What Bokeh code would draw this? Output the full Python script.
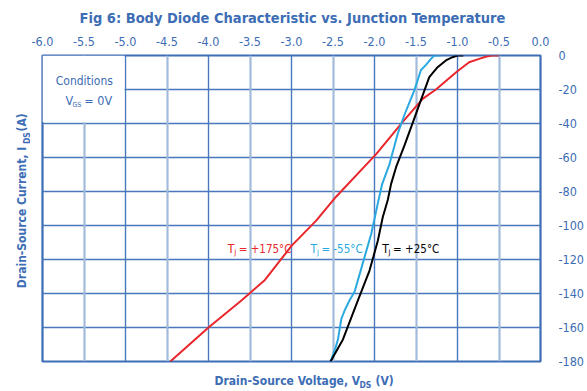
from bokeh.plotting import figure
from bokeh.models import Range1d, FixedTicker, Grid, Label, PrintfTickFormatter
from bokeh.layouts import column, row
from bokeh.embed import file_html
from bokeh.resources import INLINE
from bokeh.core.properties import value
import math

# ---- data ----
x_ticks = [-6.0, -5.5, -5.0, -4.5, -4.0, -3.5, -3.0, -2.5, -2.0, -1.5, -1.0, -0.5, 0.0]
y_ticks = [0, -20, -40, -60, -80, -100, -120, -140, -160, -180]

t175_v = [-4.46, -4.00, -3.60, -3.32, -3.00, -2.70, -2.48, -1.98, -1.66, -1.42, -1.26, -1.02, -0.86, -0.74, -0.65, -0.58, -0.50]
t175_i = [-180, -160, -144, -132, -112, -97, -84, -58, -39, -25.5, -20, -10, -4, -2, -0.6, 0, 0]

tm55_v = [-2.53, -2.47, -2.44, -2.40, -2.36, -2.30, -2.24, -2.14, -2.04, -1.96, -1.91, -1.82, -1.72, -1.64, -1.52, -1.44, -1.38, -1.32, -1.28, -1.20]
tm55_i = [-180, -172, -167, -155, -150, -144, -139, -122, -105, -87, -76, -64, -46, -35, -20.5, -8.5, -5.5, -2, 0, 0]

t25_v = [-2.53, -2.38, -2.20, -2.06, -1.96, -1.90, -1.84, -1.80, -1.74, -1.64, -1.52, -1.42, -1.34, -1.24, -1.14, -1.06, -1.00, -0.93]
t25_i = [-180, -167, -144, -126.5, -109, -95, -85, -75.5, -65.7, -53, -37, -23.5, -12.7, -6.9, -2.9, -1, 0, 0]

title_text = "Fig 6: Body Diode Characteristic vs. Junction Temperature"
x_label = ["Drain-Source Voltage, V", "DS", "(V)"]
y_label = ["Drain-Source Current, I", "DS", "(A)"]
curve_labels = [("T", "J", "= +175°C"), ("T", "J", "= -55°C"), ("T", "J", "= +25°C")]

# ---- style ----
BLUE = "#3d6db5"
GRID_DARK = "#4a78bd"
GRID_LIGHT = "#a2bbdb"
RED = "#e8262b"
CYAN = "#2aa9e0"
BLACK = "#000000"
FONT = "Noto Sans Condensed, DejaVu Sans Condensed"

W, H = 587, 391
TITLE_H = 28
XLAB_H = 21
YLAB_W = 30
MID_H = H - TITLE_H - XLAB_H
MAIN_W = W - YLAB_W
FRAME_L, FRAME_R, FRAME_T, FRAME_B = 42, 542, 55, 361   # page pixels


def text_fig(w, h):
    f = figure(width=w, height=h, x_range=Range1d(0, w), y_range=Range1d(0, h),
               output_backend="svg", toolbar_location=None,
               x_axis_location=None, y_axis_location=None, min_border=0)
    f.title = None
    f.outline_line_color = None
    f.grid.visible = False
    f.background_fill_color = "white"
    f.border_fill_color = "white"
    return f


def put(f, ox, oy, h, px, py, text, size, color, align="left", bold=False, angle=0.0):
    f.text(x=[px - ox], y=[h - (py - oy)], text=[text], text_font=value(FONT),
           text_font_size=value(f"{size}px"), text_color=color,
           text_font_style="bold" if bold else "normal",
           text_align=align, text_baseline="middle", angle=angle)


# ---- main plot ----
p = figure(width=MAIN_W, height=MID_H, x_range=Range1d(-6, 0), y_range=Range1d(-180, 0),
           x_axis_location="above", y_axis_location="right",
           output_backend="svg", toolbar_location=None,
           min_border_left=FRAME_L - YLAB_W, min_border_right=W - FRAME_R,
           min_border_top=FRAME_T - TITLE_H, min_border_bottom=TITLE_H + MID_H - FRAME_B)
p.title = None
p.background_fill_color = "white"
p.border_fill_color = "white"
p.outline_line_color = BLUE
p.outline_line_width = 2.2

xa = p.xaxis[0]
xa.ticker = FixedTicker(ticks=x_ticks)
xa.formatter = PrintfTickFormatter(format="%.1f")
ya = p.yaxis[0]
ya.ticker = FixedTicker(ticks=y_ticks)
ya.formatter = PrintfTickFormatter(format="%d")
for ax, st in ((xa, 4), (ya, 12)):
    ax.axis_line_color = None
    ax.major_tick_line_color = None
    ax.minor_tick_line_color = None
    ax.major_label_text_color = BLUE
    ax.major_label_text_font = FONT
    ax.major_label_text_font_size = "12.5px"
    ax.major_label_standoff = st

p.xgrid.ticker = FixedTicker(ticks=[v for v in x_ticks if v == int(v) and -6 < v < 0])
p.xgrid.grid_line_color = GRID_DARK
p.xgrid.grid_line_width = 1.4
p.add_layout(Grid(dimension=0, ticker=FixedTicker(ticks=[v for v in x_ticks if v != int(v)]),
                  grid_line_color=GRID_LIGHT, grid_line_width=2.2))
p.ygrid.ticker = FixedTicker(ticks=[v for v in y_ticks if -180 < v < 0])
p.ygrid.grid_line_color = GRID_DARK
p.ygrid.grid_line_width = 1.4

# conditions box (white patch hiding grid)
p.quad(left=-6, right=-5.012, top=0, bottom=-39.3, fill_color="white", line_color=None)

p.line(t175_v, t175_i, line_color=RED, line_width=2)
p.line(tm55_v, tm55_i, line_color=CYAN, line_width=2)
p.line(t25_v, t25_i, line_color=BLACK, line_width=2)


def dx(px):
    return -6 + (px - FRAME_L) * 6.0 / (FRAME_R - FRAME_L)


def dy(py):
    return -(py - FRAME_T) * 180.0 / (FRAME_B - FRAME_T)


def lab(px, py, text, size, color, align="left", bold=False):
    p.add_layout(Label(x=dx(px), y=dy(py), text=text, text_font=FONT,
                       text_font_size=f"{size}px", text_color=color,
                       text_font_style="bold" if bold else "normal",
                       text_align=align, text_baseline="middle"))


# conditions
lab(84, 80, "Conditions", 12, BLUE, "center")
lab(65, 100, "V", 12.5, BLUE, "left")
lab(72, 104, "GS", 7, BLUE, "left")
lab(84, 100, "= 0V", 12.5, BLUE, "left")

# curve labels
for (tx, col), (a, b, c) in zip(((228, RED), (311, CYAN), (383, BLACK)), curve_labels):
    lab(tx, 248, a, 12, col, "left")
    lab(tx + 6.5, 252, b, 7.5, col, "left")
    lab(tx + 11, 248, c, 11.5, col, "left")

# ---- title ----
tf = text_fig(W, TITLE_H)
put(tf, 0, 0, TITLE_H, 292, 17, title_text, 14.5, BLUE, "center", True)

# ---- y label ----
yf = text_fig(YLAB_W, MID_H)
A = math.pi / 2
put(yf, 0, TITLE_H, MID_H, 21, 288, y_label[0], 12, BLUE, "left", True, A)
put(yf, 0, TITLE_H, MID_H, 26, 127, y_label[1], 8.5, BLUE, "left", True, A)
put(yf, 0, TITLE_H, MID_H, 21, 113, y_label[2], 12, BLUE, "left", True, A)

# ---- x label ----
xf = text_fig(W, XLAB_H)
oy = TITLE_H + MID_H
put(xf, 0, oy, XLAB_H, 214, 380, x_label[0], 12, BLUE, "left", True)
put(xf, 0, oy, XLAB_H, 359, 384, x_label[1], 8.5, BLUE, "left", True)
put(xf, 0, oy, XLAB_H, 375, 380, x_label[2], 12, BLUE, "left", True)

layout = column(tf, row(yf, p, spacing=0), xf, spacing=0)
open("out.html", "w").write(file_html(layout, INLINE))
